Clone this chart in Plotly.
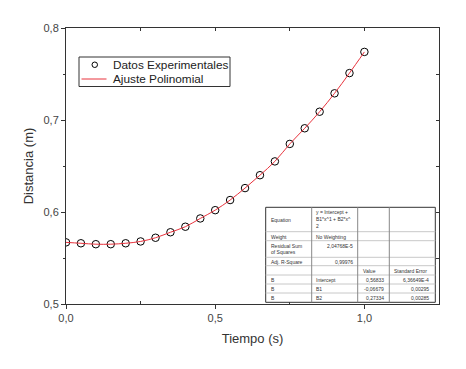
import plotly.graph_objects as go

# ---- data ----
tiempo = [0.00, 0.05, 0.10, 0.15, 0.20, 0.25, 0.30, 0.35, 0.40, 0.45, 0.50,
          0.55, 0.60, 0.65, 0.70, 0.75, 0.80, 0.85, 0.90, 0.95, 1.00]
distancia = [0.567, 0.566, 0.565, 0.565, 0.566, 0.568, 0.572, 0.578, 0.584, 0.593, 0.602,
             0.613, 0.626, 0.640, 0.655, 0.674, 0.691, 0.709, 0.729, 0.751, 0.774]

xticks = [0.0, 0.5, 1.0]
yticks = [0.5, 0.6, 0.7, 0.8]

series_names = ["Datos Experimentales", "Ajuste Polinomial"]

table_left = ["Equation", "Weight", "Residual Sum", "of Squares", "Adj. R-Square"]
equation_lines = ["y = Intercept +", "B1*x^1 + B2*x^", "2"]
weight_txt = "No Weighting"
rss_txt = "2,04768E-5"
r2_txt = "0,99976"
param_hdr = ["Value", "Standard Error"]
param_rows = [["B", "Intercept", "0,56833", "6,36649E-4"],
              ["B", "B1", "-0,06679", "0,00295"],
              ["B", "B2", "0,27334", "0,00285"]]

W, H = 466, 369
ML, MR, MT, MB = 66, 27, 28, 65
PW, PH = W - ML - MR, H - MT - MB
FONT = "Liberation Sans, Arial, sans-serif"
RED = "#e8323c"


def px(xp):
    return (xp - ML) / PW


def py(yp):
    return (H - MB - yp) / PH


fig = go.Figure()
fig.add_trace(go.Scatter(x=tiempo, y=distancia, mode="markers", name=series_names[0],
                         cliponaxis=True, showlegend=False,
                         marker=dict(symbol="circle-open", size=7.5, color="black",
                                     line=dict(width=1, color="black"))))
fig.add_trace(go.Scatter(x=tiempo, y=distancia, mode="lines", name=series_names[1],
                         cliponaxis=True, showlegend=False,
                         line=dict(color=RED, width=1, shape="spline")))
# dummy trace to activate mirrored axes
fig.add_trace(go.Scatter(x=tiempo, y=distancia, mode="markers", xaxis="x2", yaxis="y2",
                         marker=dict(opacity=0), showlegend=False, hoverinfo="skip"))

axcol = "#333333"
fig.update_layout(
    width=W, height=H,
    margin=dict(l=ML, r=MR, t=MT, b=MB),
    paper_bgcolor="white", plot_bgcolor="white",
    separators=",.",
    font=dict(family=FONT, color="#333333"),
    showlegend=False,
    xaxis=dict(range=[0, 1.25], tickvals=xticks, tickformat=".1f",
               showgrid=False, zeroline=False, showline=True, linecolor=axcol, linewidth=1,
               ticks="outside", ticklen=4, tickcolor=axcol,
               minor=dict(tickvals=[0.25, 0.75, 1.25], ticks="inside", ticklen=3, tickcolor=axcol),
               tickfont=dict(size=11, color="#444444"),
               title=dict(text="Tiempo (s)", font=dict(size=13, color="#333333"), standoff=10)),
    yaxis=dict(range=[0.5, 0.8], tickvals=yticks, tickformat=".1f",
               showgrid=False, zeroline=False, showline=True, linecolor=axcol, linewidth=1,
               ticks="outside", ticklen=4, tickcolor=axcol,
               minor=dict(tickvals=[0.55, 0.65, 0.75], ticks="outside", ticklen=2, tickcolor=axcol),
               tickfont=dict(size=11, color="#444444"),
               title=dict(text="Distancia (m)", font=dict(size=13, color="#333333"), standoff=6)),
    xaxis2=dict(overlaying="x", side="top", range=[0, 1.25],
                tickvals=[0.0, 0.25, 0.5, 0.75, 1.0, 1.25], showticklabels=False,
                showgrid=False, zeroline=False, showline=True, linecolor=axcol, linewidth=1,
                ticks="inside", ticklen=3, tickcolor=axcol),
    yaxis2=dict(overlaying="y", side="right", range=[0.5, 0.8],
                tickvals=[0.5, 0.55, 0.6, 0.65, 0.7, 0.75, 0.8], showticklabels=False,
                showgrid=False, zeroline=False, showline=True, linecolor=axcol, linewidth=1,
                ticks="inside", ticklen=3, tickcolor=axcol),
)

shapes = []

# ---- legend (drawn as box + symbols + text) ----
shapes.append(dict(type="rect", xref="paper", yref="paper", x0=px(79), x1=px(230),
                   y0=py(86.5), y1=py(57), fillcolor="white",
                   line=dict(color="#333333", width=1), layer="above"))
shapes.append(dict(type="circle", xref="paper", yref="paper", x0=px(92), x1=px(97.5),
                   y0=py(67.5), y1=py(62), line=dict(color="black", width=1), layer="above"))
shapes.append(dict(type="line", xref="paper", yref="paper", x0=px(81.5), x1=px(106.5),
                   y0=py(79), y1=py(79), line=dict(color=RED, width=1), layer="above"))
for name, yy in zip(series_names, [65, 79]):
    fig.add_annotation(text=name, x=px(110.5), y=py(yy), xref="paper", yref="paper",
                       xanchor="left", yanchor="middle", showarrow=False,
                       font=dict(size=11.8, family=FONT, color="#222222"))

# ---- inset results table ----
L, C1, C2, C3, R = 265.7, 311.7, 357.7, 389.3, 435.3
rows = [207.3, 231.7, 240.7, 257.3, 265.7, 275.0, 284.0, 293.0, 302.3]

shapes.append(dict(type="rect", xref="paper", yref="paper", x0=px(L), x1=px(R),
                   y0=py(rows[-1]), y1=py(rows[0]), fillcolor="white",
                   line=dict(color="#333333", width=1), layer="above"))
for yy in rows[1:-1]:
    shapes.append(dict(type="line", xref="paper", yref="paper", x0=px(L), x1=px(R),
                       y0=py(yy), y1=py(yy), line=dict(color="#c8c8c8", width=1), layer="above"))
for xx in [C1, C2, C3]:
    shapes.append(dict(type="line", xref="paper", yref="paper", x0=px(xx), x1=px(xx),
                       y0=py(rows[-1]), y1=py(rows[0]), line=dict(color="#888888", width=1),
                       layer="above"))
fig.update_layout(shapes=shapes)


def txt(s, xp, yp, anchor="left"):
    fig.add_annotation(text=s, x=px(xp), y=py(yp), xref="paper", yref="paper",
                       xanchor=anchor, yanchor="middle", showarrow=False,
                       font=dict(size=5, family=FONT, color="#333333"))


txt(table_left[0], L + 3, 219.5)
for i, line in enumerate(equation_lines):
    txt(line, C1 + 2, 211.5 + 7 * i)
txt(table_left[1], L + 3, 236.5)
txt(weight_txt, C1 + 2, 236.5)
txt(table_left[2], L + 3, 245.5)
txt(table_left[3], L + 3, 252)
txt(rss_txt, C2 - 3, 245.5, "right")
txt(table_left[4], L + 3, 262)
txt(r2_txt, C2 - 3, 262, "right")
txt(param_hdr[0], C2 + 3, 270.5)
txt(param_hdr[1], C3 + 3, 270.5)
for i, row in enumerate(param_rows):
    yy = 279.5 + 9 * i
    txt(row[0], L + 3, yy)
    txt(row[1], C1 + 2, yy)
    txt(row[2], C3 - 3, yy, "right")
    txt(row[3], R - 4, yy, "right")

fig.write_html("out.html", config={"displayModeBar": False},
               post_script="document.body.style.margin='0';")
